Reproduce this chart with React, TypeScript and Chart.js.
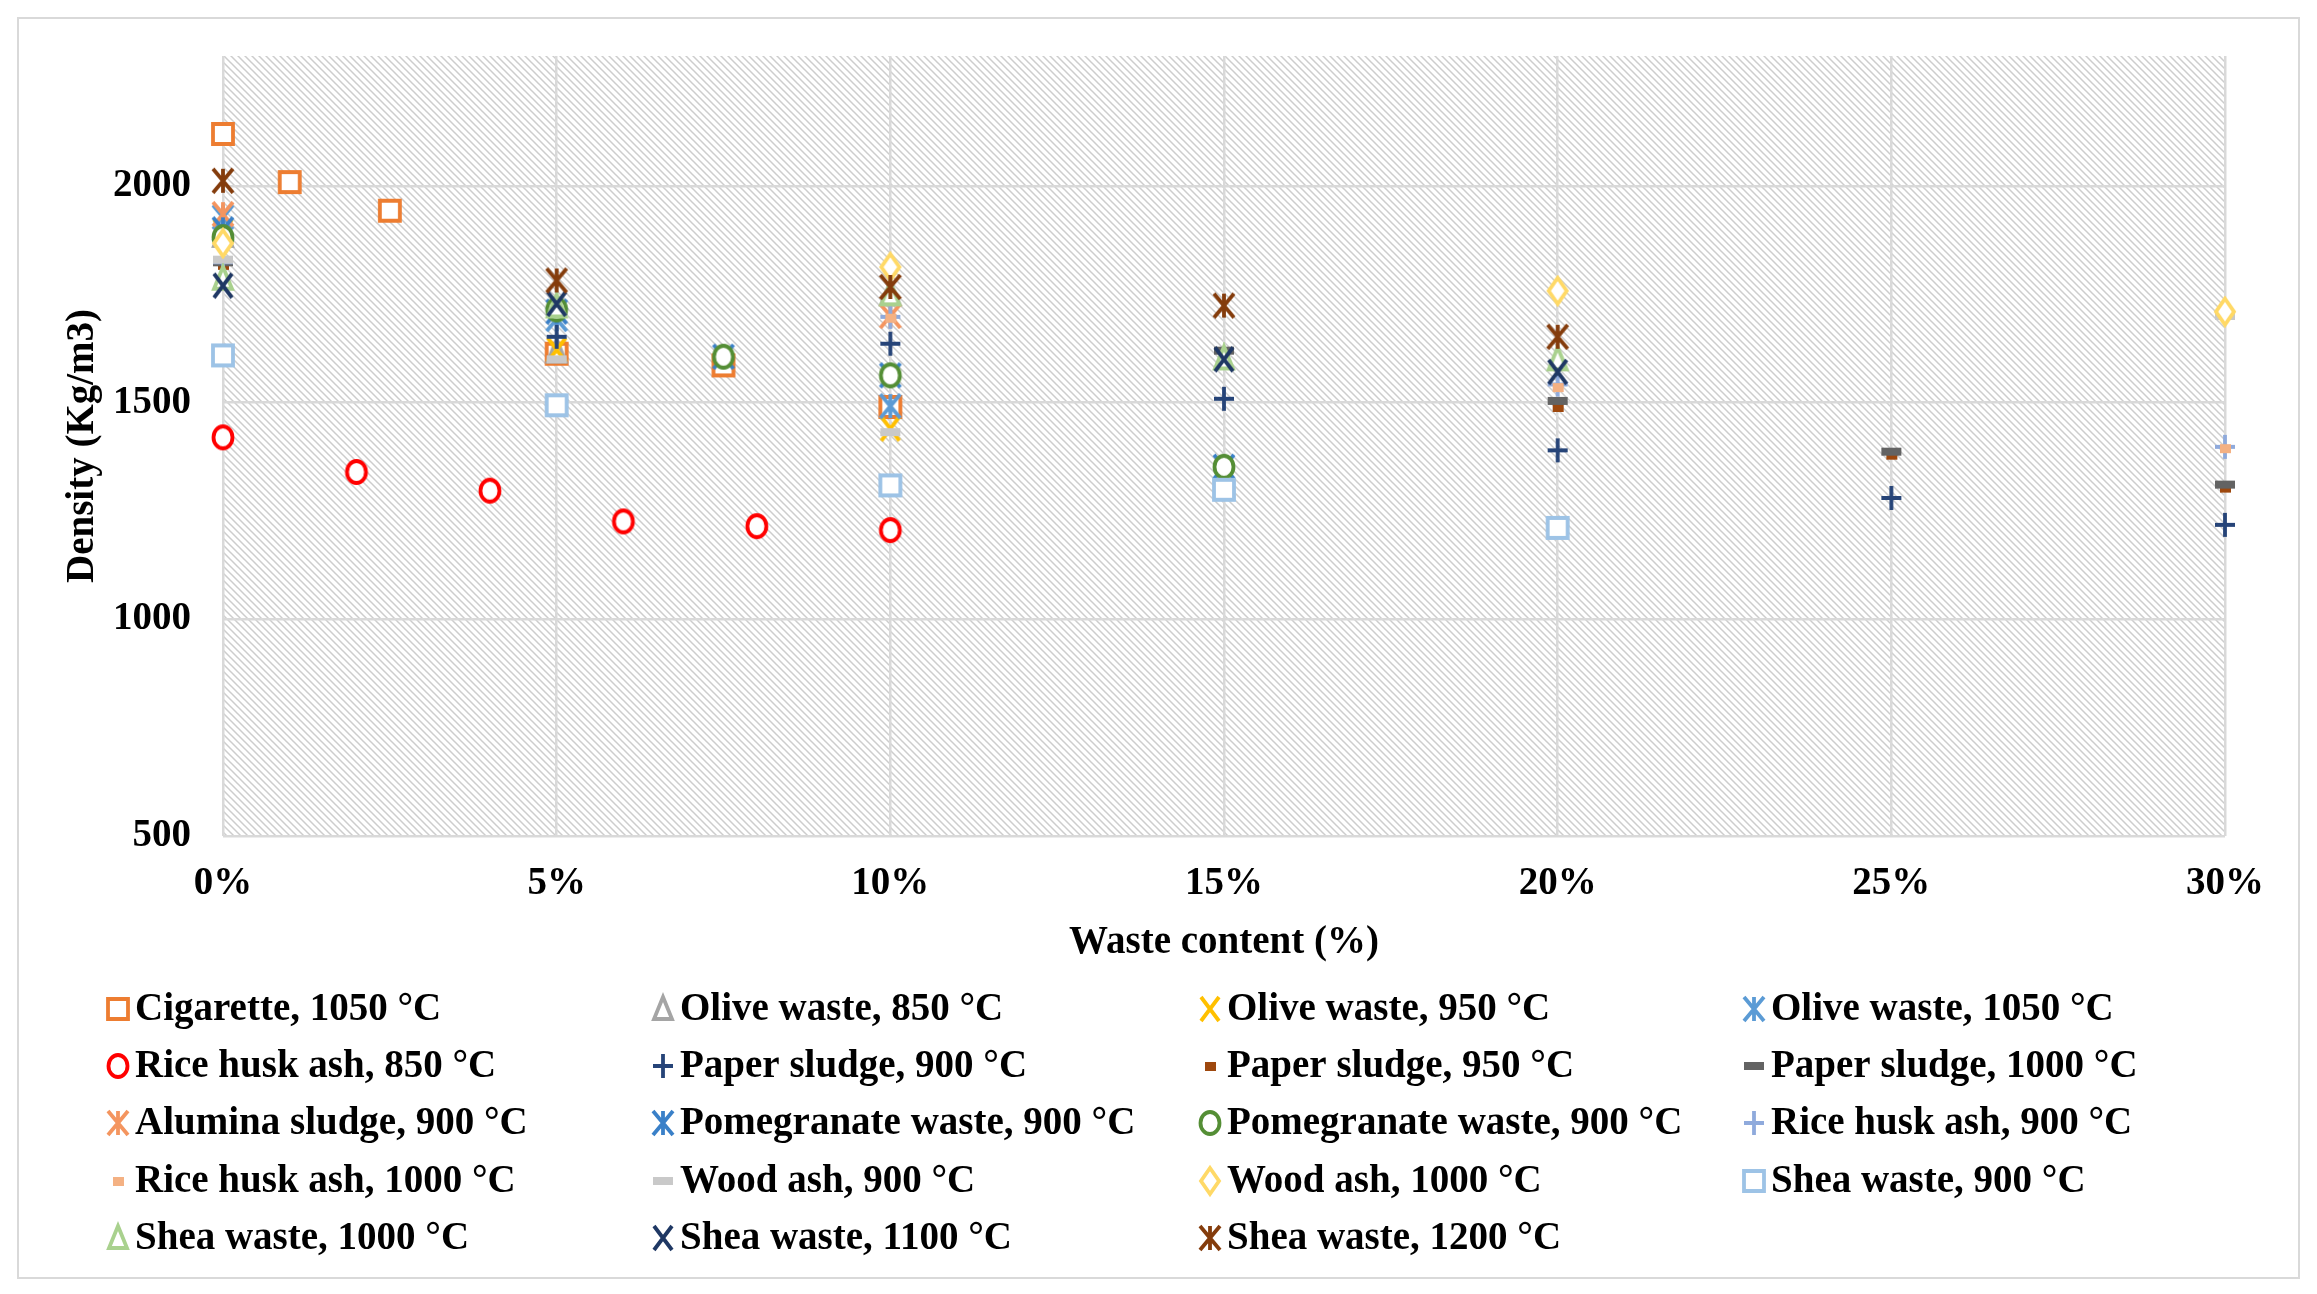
import React, { useEffect, useRef } from 'react';
import Chart from 'chart.js/auto';

// waste content (%) and density (kg/m3) per series
const cigaretteX = [0, 1, 2.5, 5, 7.5, 10];
const cigaretteY = [2120, 2009, 1943, 1613, 1586, 1490];
const olive850X = [0, 5, 10];
const olive850Y = [1885, 1618, 1750];
const olive950X = [0, 5, 10];
const olive950Y = [1895, 1622, 1440];
const olive1050X = [0, 5, 10];
const olive1050Y = [1928, 1693, 1492];
const riceHusk850X = [0, 2, 4, 6, 8, 10];
const riceHusk850Y = [1420, 1340, 1297, 1226, 1215, 1206];
const paper900X = [5, 10, 15, 20, 25, 30];
const paper900Y = [1652, 1636, 1509, 1390, 1280, 1218];
const paper950X = [0, 15, 20, 25, 30];
const paper950Y = [1818, 1612, 1490, 1380, 1304];
const paper1000X = [0, 15, 20, 25, 30];
const paper1000Y = [1824, 1620, 1504, 1387, 1311];
const alumina900X = [0, 10];
const alumina900Y = [1935, 1700];
const pomegranateBlueX = [0, 5, 7.5, 10, 15];
const pomegranateBlueY = [1900, 1710, 1606, 1563, 1352];
const pomegranateGreenX = [0, 5, 7.5, 10, 15];
const pomegranateGreenY = [1882, 1715, 1606, 1563, 1352];
const riceHusk900X = [0, 10, 20, 30];
const riceHusk900Y = [1824, 1698, 1542, 1398];
const riceHusk1000X = [10, 20, 30];
const riceHusk1000Y = [1696, 1536, 1395];
const woodAsh900X = [0, 5, 10, 30];
const woodAsh900Y = [1830, 1600, 1432, 1700];
const woodAsh1000X = [0, 10, 20, 30];
const woodAsh1000Y = [1868, 1813, 1758, 1710];
const shea900X = [0, 5, 10, 15, 20];
const shea900Y = [1609, 1494, 1309, 1299, 1211];
const shea1000X = [0, 5, 10, 15, 20];
const shea1000Y = [1786, 1722, 1750, 1602, 1600];
const shea1100X = [0, 5, 15, 20];
const shea1100Y = [1770, 1728, 1600, 1571];
const shea1200X = [0, 5, 10, 15, 20];
const shea1200Y = [2012, 1782, 1767, 1724, 1652];

const xTicks = [0, 5, 10, 15, 20, 25, 30];
const yTicks = [500, 1000, 1500, 2000];

type Marker = 'square' | 'circle' | 'triangle' | 'diamond' | 'x' | 'plus' | 'asterisk' | 'dash' | 'shortDash';

type Series = { label: string; xs: number[]; ys: number[]; color: string; marker: Marker };

const series: Series[] = [
  { label: 'Cigarette, 1050 °C', xs: cigaretteX, ys: cigaretteY, color: '#ED7D31', marker: 'square' },
  { label: 'Olive waste, 850 °C', xs: olive850X, ys: olive850Y, color: '#A5A5A5', marker: 'triangle' },
  { label: 'Olive waste, 950 °C', xs: olive950X, ys: olive950Y, color: '#FFC000', marker: 'x' },
  { label: 'Olive waste, 1050 °C', xs: olive1050X, ys: olive1050Y, color: '#5B9BD5', marker: 'asterisk' },
  { label: 'Rice husk ash, 850 °C', xs: riceHusk850X, ys: riceHusk850Y, color: '#FF0000', marker: 'circle' },
  { label: 'Paper sludge, 900 °C', xs: paper900X, ys: paper900Y, color: '#264478', marker: 'plus' },
  { label: 'Paper sludge, 950 °C', xs: paper950X, ys: paper950Y, color: '#9E480E', marker: 'shortDash' },
  { label: 'Paper sludge, 1000 °C', xs: paper1000X, ys: paper1000Y, color: '#636363', marker: 'dash' },
  { label: 'Alumina sludge, 900 °C', xs: alumina900X, ys: alumina900Y, color: '#F4955F', marker: 'asterisk' },
  { label: 'Pomegranate waste, 900 °C', xs: pomegranateBlueX, ys: pomegranateBlueY, color: '#3A80C8', marker: 'asterisk' },
  { label: 'Pomegranate waste, 900 °C', xs: pomegranateGreenX, ys: pomegranateGreenY, color: '#548E35', marker: 'circle' },
  { label: 'Rice husk ash, 900 °C', xs: riceHusk900X, ys: riceHusk900Y, color: '#8FAADC', marker: 'plus' },
  { label: 'Rice husk ash, 1000 °C', xs: riceHusk1000X, ys: riceHusk1000Y, color: '#F4B183', marker: 'shortDash' },
  { label: 'Wood ash, 900 °C', xs: woodAsh900X, ys: woodAsh900Y, color: '#C9C9C9', marker: 'dash' },
  { label: 'Wood ash, 1000 °C', xs: woodAsh1000X, ys: woodAsh1000Y, color: '#FFD966', marker: 'diamond' },
  { label: 'Shea waste, 900 °C', xs: shea900X, ys: shea900Y, color: '#9DC3E6', marker: 'square' },
  { label: 'Shea waste, 1000 °C', xs: shea1000X, ys: shea1000Y, color: '#A9D18E', marker: 'triangle' },
  { label: 'Shea waste, 1100 °C', xs: shea1100X, ys: shea1100Y, color: '#1F3864', marker: 'x' },
  { label: 'Shea waste, 1200 °C', xs: shea1200X, ys: shea1200Y, color: '#843C0C', marker: 'asterisk' },
];

const W = 2317;
const H = 1294;
const FONT = 'Liberation Serif';

function drawMarker(ctx: CanvasRenderingContext2D, marker: Marker, color: string, cx: number, cy: number) {
  ctx.save();
  ctx.strokeStyle = color;
  ctx.fillStyle = '#ffffff';
  ctx.lineWidth = 3.8;
  ctx.beginPath();
  switch (marker) {
    case 'square':
      ctx.rect(cx - 10, cy - 10, 20, 20);
      ctx.fill();
      ctx.stroke();
      break;
    case 'circle':
      ctx.ellipse(cx, cy, 9.5, 11, 0, 0, Math.PI * 2);
      ctx.fill();
      ctx.stroke();
      break;
    case 'triangle':
      ctx.moveTo(cx, cy - 12);
      ctx.lineTo(cx + 9, cy + 10);
      ctx.lineTo(cx - 9, cy + 10);
      ctx.closePath();
      ctx.fill();
      ctx.stroke();
      break;
    case 'diamond':
      ctx.moveTo(cx, cy - 13);
      ctx.lineTo(cx + 9, cy);
      ctx.lineTo(cx, cy + 13);
      ctx.lineTo(cx - 9, cy);
      ctx.closePath();
      ctx.fill();
      ctx.stroke();
      break;
    case 'x':
      ctx.moveTo(cx - 9, cy - 12);
      ctx.lineTo(cx + 9, cy + 12);
      ctx.moveTo(cx + 9, cy - 12);
      ctx.lineTo(cx - 9, cy + 12);
      ctx.stroke();
      break;
    case 'plus':
      ctx.moveTo(cx - 10, cy);
      ctx.lineTo(cx + 10, cy);
      ctx.moveTo(cx, cy - 12);
      ctx.lineTo(cx, cy + 12);
      ctx.stroke();
      break;
    case 'asterisk':
      ctx.moveTo(cx - 10, cy - 12);
      ctx.lineTo(cx + 10, cy + 12);
      ctx.moveTo(cx + 10, cy - 12);
      ctx.lineTo(cx - 10, cy + 12);
      ctx.moveTo(cx, cy - 12);
      ctx.lineTo(cx, cy + 12);
      ctx.stroke();
      break;
    case 'dash':
      ctx.fillStyle = color;
      ctx.fillRect(cx - 10, cy - 4, 20, 8);
      break;
    case 'shortDash':
      ctx.fillStyle = color;
      ctx.fillRect(cx - 5, cy - 4, 11, 9);
      break;
  }
  ctx.restore();
}

function markerImage(marker: Marker, color: string) {
  const c = document.createElement('canvas');
  c.width = 32;
  c.height = 32;
  const ctx = c.getContext('2d');
  if (ctx) drawMarker(ctx, marker, color, 16, 16);
  return c;
}

function hatchPattern(ctx: CanvasRenderingContext2D) {
  const s = 7;
  const tile = document.createElement('canvas');
  tile.width = s;
  tile.height = s;
  const t = tile.getContext('2d');
  if (!t) return '#eeeeee';
  t.fillStyle = '#ffffff';
  t.fillRect(0, 0, s, s);
  t.strokeStyle = '#cdcdcd';
  t.lineWidth = 1.5;
  t.beginPath();
  t.moveTo(-1, -1);
  t.lineTo(s + 1, s + 1);
  t.moveTo(-1, s - 1);
  t.lineTo(1, s + 1);
  t.moveTo(s - 1, -1);
  t.lineTo(s + 1, 1);
  t.stroke();
  return ctx.createPattern(tile, 'repeat') || '#eeeeee';
}

const backgroundPlugin = {
  id: 'excelBackground',
  beforeDraw(chart: any) {
    const { ctx, chartArea } = chart;
    ctx.save();
    ctx.fillStyle = '#ffffff';
    ctx.fillRect(0, 0, W, H);
    ctx.strokeStyle = '#d9d9d9';
    ctx.lineWidth = 2;
    ctx.strokeRect(18, 18, W - 36, H - 34);
    ctx.fillStyle = hatchPattern(ctx);
    ctx.fillRect(chartArea.left, chartArea.top, chartArea.right - chartArea.left, chartArea.bottom - chartArea.top);
    ctx.restore();
  },
};

const legendPlugin = {
  id: 'gridLegend',
  afterDraw(chart: any) {
    const ctx: CanvasRenderingContext2D = chart.ctx;
    const colX = [118, 663, 1210, 1754];
    const rowY = [1009, 1066, 1123, 1181, 1238];
    ctx.save();
    ctx.font = `bold 39px "${FONT}"`;
    ctx.fillStyle = '#000000';
    ctx.textBaseline = 'middle';
    ctx.textAlign = 'left';
    series.forEach((s, i) => {
      const x = colX[i % 4];
      const y = rowY[Math.floor(i / 4)];
      drawMarker(ctx, s.marker, s.color, x, y);
      ctx.fillText(s.label, x + 17, y + 1);
    });
    ctx.restore();
  },
};

export default function App() {
  const canvasRef = useRef<HTMLCanvasElement>(null);

  useEffect(() => {
    document.body.style.margin = '0';
    const canvas = canvasRef.current;
    if (!canvas) return;
    const context = canvas.getContext('2d');
    if (!context) return;

    const tickFont = { family: FONT, size: 39, weight: 'bold' as const };

    const chart = new Chart(context, {
      type: 'scatter',
      data: {
        datasets: series.map((s, i) => ({
          label: s.label,
          data: s.xs.map((x, j) => ({ x, y: s.ys[j] })),
          pointStyle: markerImage(s.marker, s.color),
          pointRadius: 10,
          showLine: false,
          clip: false as any,
          order: series.length - i,
        })),
      },
      options: {
        animation: false,
        responsive: false,
        devicePixelRatio: 1,
        layout: { padding: { left: 0, top: 56, right: W - 2225, bottom: H - 836 - 130 } },
        plugins: {
          legend: { display: false },
          tooltip: { enabled: false },
        },
        scales: {
          x: {
            type: 'linear',
            min: 0,
            max: 30,
            afterFit: (scale: any) => {
              scale.height = 130;
            },
            afterBuildTicks: (scale: any) => {
              scale.ticks = xTicks.map((v) => ({ value: v }));
            },
            grid: { color: '#d9d9d9', lineWidth: 2.5, drawTicks: false },
            border: { display: false },
            ticks: {
              font: tickFont,
              color: '#000000',
              padding: 25,
              maxRotation: 0,
              callback: (v: any) => `${v}%`,
            },
            title: {
              display: true,
              text: 'Waste content (%)',
              font: tickFont,
              color: '#000000',
              padding: { top: 6, bottom: 0 },
            },
          },
          y: {
            type: 'linear',
            min: 500,
            max: 2300,
            afterFit: (scale: any) => {
              scale.width = 223;
            },
            afterBuildTicks: (scale: any) => {
              scale.ticks = yTicks.map((v) => ({ value: v }));
            },
            grid: { color: '#d9d9d9', lineWidth: 2.5, drawTicks: false },
            border: { display: false },
            ticks: {
              font: tickFont,
              color: '#000000',
              padding: 32,
              callback: (v: any) => String(v),
            },
            title: {
              display: true,
              text: 'Density (Kg/m3)',
              font: tickFont,
              color: '#000000',
              padding: { top: 60, bottom: 0 },
            },
          },
        },
      },
      plugins: [backgroundPlugin, legendPlugin],
    });

    return () => {
      chart.destroy();
    };
  }, []);

  return (
    <div style={{ width: W, height: H, overflow: 'hidden' }}>
      <canvas ref={canvasRef} width={W} height={H} />
    </div>
  );
}
